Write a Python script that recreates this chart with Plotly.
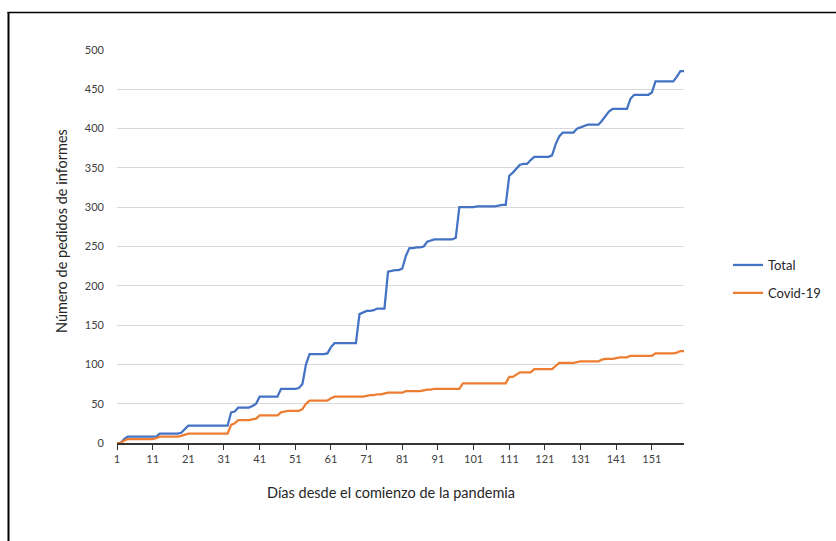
import plotly.graph_objects as go

# Days since the start of the pandemic
days = list(range(1, 161))

# Cumulative report requests, all topics
total = [
    0, 0, 5, 8, 8, 8, 8, 8, 8, 8,            # 1-10
    8, 8, 12, 12, 12, 12, 12, 12, 13, 18,    # 11-20
    22, 22, 22, 22, 22, 22, 22, 22, 22, 22,  # 21-30
    22, 22, 39, 40, 45, 45, 45, 45, 47, 50,  # 31-40
    59, 59, 59, 59, 59, 59, 69, 69, 69, 69,  # 41-50
    69, 70, 75, 100, 113, 113, 113, 113, 113, 114,  # 51-60
    122, 127, 127, 127, 127, 127, 127, 127, 164, 166,  # 61-70
    168, 168, 169, 171, 171, 171, 218, 219, 220, 220,  # 71-80
    222, 238, 248, 248, 249, 249, 250, 256, 258, 259,  # 81-90
    259, 259, 259, 259, 259, 261, 300, 300, 300, 300,  # 91-100
    300, 301, 301, 301, 301, 301, 301, 302, 303, 303,  # 101-110
    340, 344, 349, 354, 355, 355, 360, 364, 364, 364,  # 111-120
    364, 364, 366, 380, 390, 395, 395, 395, 395, 400,  # 121-130
    402, 403, 405, 405, 405, 405, 410, 416, 422, 425,  # 131-140
    425, 425, 425, 425, 438, 443, 443, 443, 443, 443,  # 141-150
    446, 460, 460, 460, 460, 460, 460, 466, 473, 473,  # 151-160
]

# Cumulative report requests related to Covid-19
covid = [
    0, 0, 3, 5, 5, 5, 5, 5, 5, 5,            # 1-10
    5, 6, 8, 8, 8, 8, 8, 8, 9, 11,           # 11-20
    12, 12, 12, 12, 12, 12, 12, 12, 12, 12,  # 21-30
    12, 12, 23, 25, 29, 29, 29, 29, 30, 31,  # 31-40
    35, 35, 35, 35, 35, 35, 39, 40, 41, 41,  # 41-50
    41, 41, 43, 50, 54, 54, 54, 54, 54, 54,  # 51-60
    57, 59, 59, 59, 59, 59, 59, 59, 59, 59,  # 61-70
    60, 61, 61, 62, 62, 63, 64, 64, 64, 64,  # 71-80
    64, 66, 66, 66, 66, 66, 67, 68, 68, 69,  # 81-90
    69, 69, 69, 69, 69, 69, 69, 76, 76, 76,  # 91-100
    76, 76, 76, 76, 76, 76, 76, 76, 76, 76,  # 101-110
    84, 84, 87, 90, 90, 90, 90, 94, 94, 94,  # 111-120
    94, 94, 94, 98, 102, 102, 102, 102, 102, 103,  # 121-130
    104, 104, 104, 104, 104, 104, 106, 107, 107, 107,  # 131-140
    108, 109, 109, 109, 111, 111, 111, 111, 111, 111,  # 141-150
    111, 114, 114, 114, 114, 114, 114, 115, 117, 117,  # 151-160
]

x_ticks = list(range(1, 161, 10))
y_ticks = list(range(0, 501, 50))

X_TITLE = "Días desde el comienzo de la pandemia"
Y_TITLE = "Número de pedidos de informes"

BLUE = "#4472C4"
ORANGE = "#ED7D31"
TEXT = "#404040"
TITLE = "#262626"
FONT = "Lato"

fig = go.Figure()
fig.add_trace(go.Scatter(x=days, y=total, mode="lines", name="Total",
                         legendgroup="total",
                         line=dict(color=BLUE, width=2.25)))
fig.add_trace(go.Scatter(x=days, y=covid, mode="lines", name="Covid-19",
                         legendgroup="covid",
                         line=dict(color=ORANGE, width=2.25)))

# plot area in pixels: x 117..684, y 50..443
L, R, T, B = 117, 684, 50, 443
W, H = 836, 541


def px_x(p):
    return (p - L) / (R - L)


def px_y(p):
    return (B - p) / (B - T)


fig.update_layout(
    width=W, height=H,
    margin=dict(l=L, r=W - R, t=T, b=H - B, autoexpand=False),
    paper_bgcolor="white", plot_bgcolor="white",
    font=dict(family=FONT, size=11, color=TEXT),
    showlegend=True,
    legend=dict(
        x=px_x(728), xanchor="left",
        y=px_y(279), yanchor="middle",
        font=dict(family=FONT, size=13, color=TITLE),
        traceorder="grouped", tracegroupgap=8,
        bgcolor="rgba(0,0,0,0)",
    ),
    xaxis=dict(
        range=[1, 160],
        tickmode="array", tickvals=x_ticks, ticktext=[str(v) for v in x_ticks],
        ticks="outside", ticklen=5, tickcolor="#333333", tickwidth=1,
        showline=True, linecolor="#333333", linewidth=1.5,
        showgrid=False, zeroline=False,
        tickfont=dict(family=FONT, size=11, color=TEXT),
        automargin=False,
    ),
    yaxis=dict(
        range=[0, 500],
        tickmode="array", tickvals=y_ticks,
        showgrid=True, gridcolor="#D9D9D9", gridwidth=1,
        zeroline=False, showline=False, ticks="",
        tickfont=dict(family=FONT, size=11, color=TEXT),
        ticklabelstandoff=12,
        automargin=False,
    ),
    annotations=[
        dict(text=X_TITLE, xref="paper", yref="paper",
             x=px_x(391), y=px_y(492), xanchor="center", yanchor="middle",
             showarrow=False, font=dict(family=FONT, size=14.5, color=TITLE)),
        dict(text=Y_TITLE, xref="paper", yref="paper", textangle=-90,
             x=px_x(62), y=px_y(231), xanchor="center", yanchor="middle",
             showarrow=False, font=dict(family=FONT, size=14.5, color=TITLE)),
    ],
    shapes=[
        # outer frame: left and top edges
        dict(type="line", xref="paper", yref="paper",
             x0=px_x(8.5), x1=px_x(8.5), y0=px_y(12), y1=px_y(541),
             line=dict(color="black", width=2)),
        dict(type="line", xref="paper", yref="paper",
             x0=px_x(7.5), x1=px_x(836), y0=px_y(12.5), y1=px_y(12.5),
             line=dict(color="black", width=1.5)),
    ],
)

fig.write_html("out.html")
